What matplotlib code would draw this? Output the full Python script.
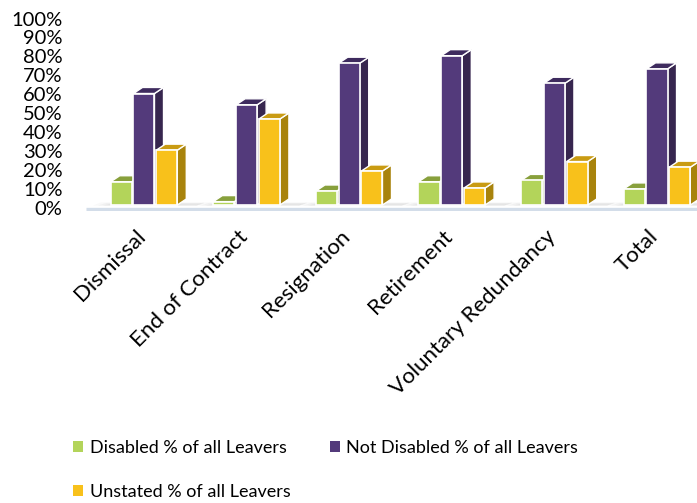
import numpy as np
import matplotlib
matplotlib.use("Agg")
import matplotlib.pyplot as plt
from matplotlib.patches import Polygon, Patch
from matplotlib.transforms import ScaledTranslation

plt.rcParams['font.family'] = ['Lato', 'DejaVu Sans']

categories = ["Dismissal", "End of Contract", "Resignation", "Retirement",
              "Voluntary Redundancy", "Total"]
disabled = [12.3, 1.8, 7.4, 12.3, 13.0, 8.5]
not_disabled = [59.0, 53.0, 75.0, 79.0, 64.4, 72.0]
unstated = [29.0, 45.5, 18.0, 9.0, 23.0, 20.0]
series_names = ["Disabled % of all Leavers", "Not Disabled % of all Leavers",
                "Unstated % of all Leavers"]

# front, top, side colours
colors = [("#b3d45a", "#88a03c", "#7d9434"),
          ("#533a7b", "#3e2b5e", "#37264f"),
          ("#f8c11b", "#c99b12", "#a8830c")]

W, H = 697, 503
fig = plt.figure(figsize=(W / 100, H / 100), dpi=100)
ax_left, ax_right, ax_bot, ax_top = 86, 697, 210.7, 16
ax = fig.add_axes([ax_left / W, 1 - ax_bot / H, (ax_right - ax_left) / W,
                   (ax_bot - ax_top) / H])
ax.set_xlim(-0.565, 5.39)
ax.set_ylim(-3, 100)
ax.axis("off")

bw = 0.205
step = 0.222
ddx = 0.088
ddy = 3.2
x = np.arange(len(categories))

# floor
ax.plot([-0.565, 5.39], [-2.1, -2.1], color="#d3dde9", lw=2.4,
        solid_capstyle="butt", zorder=1)
# soft shadows under groups
for i in x:
    for k, a in enumerate([0.04, 0.06, 0.08]):
        ax.fill([i - 0.5 + k * 0.05, i + 0.42 + ddx, i + 0.5 + ddx, i - 0.42 + k * 0.05],
                [-0.3, -0.3, 1.4 - k * 0.3, 1.4 - k * 0.3],
                color="#707070", alpha=a, lw=0, zorder=2)

z = 3
for s, vals in enumerate([disabled, not_disabled, unstated]):
    front, top, side = colors[s]
    for i, v in enumerate(vals):
        x0 = i + (s - 1) * step - bw / 2
        x1 = x0 + bw
        ax.add_patch(Polygon([(x1, 0), (x1 + ddx, ddy), (x1 + ddx, v + ddy), (x1, v)],
                             closed=True, fc=side, ec="white", lw=1.0, zorder=z + i * 3 + s))
        ax.add_patch(Polygon([(x0, v), (x0 + ddx, v + ddy), (x1 + ddx, v + ddy), (x1, v)],
                             closed=True, fc=top, ec="white", lw=1.0, zorder=z + i * 3 + s))
        ax.bar(x0, v, width=bw, align="edge", color=front, edgecolor="white",
               lw=1.2, zorder=z + i * 3 + s + 0.5)

# y tick labels
off = ScaledTranslation(0, -4 / 100, fig.dpi_scale_trans)
for t in range(0, 101, 10):
    ax.text(-0.795, t, f"{t}%", ha="right", va="center", fontsize=14.5,
            color="black", transform=ax.transData + off, clip_on=False)

# category labels
for i, c in enumerate(categories):
    ax.text(i - 0.02, -15, c, rotation=45, rotation_mode="anchor",
            ha="right", va="center", fontsize=16, clip_on=False)

handles = [Patch(facecolor=colors[k][0], edgecolor="none") for k in range(3)]
order = [0, 2, 1]
fig.legend([handles[k] for k in order], [series_names[k] for k in order],
           ncol=2, loc="upper left",
           bbox_to_anchor=(57 / W, 1 - 424 / H), frameon=False, fontsize=13,
           handlelength=0.55, handleheight=0.55, handletextpad=0.35,
           columnspacing=2.2, labelspacing=1.55)

fig.savefig("out.png", dpi=100)
